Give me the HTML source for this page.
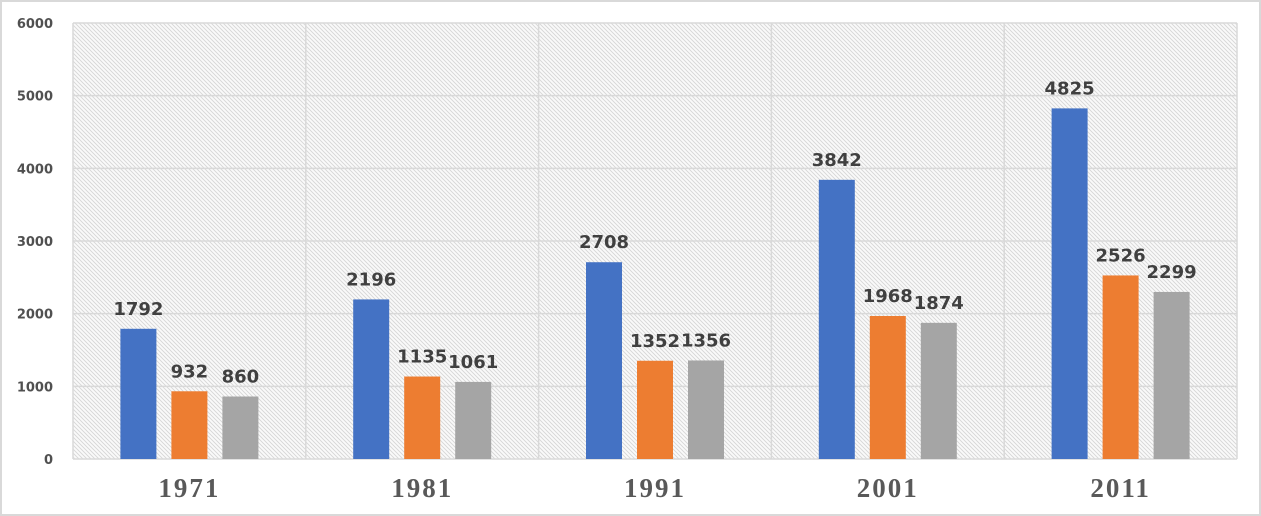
<!DOCTYPE html>
<html><head><meta charset="utf-8"><style>
body{margin:0;background:#fff;}
svg{display:block;}
</style></head><body>
<svg id="chart" width="1261" height="516" xmlns="http://www.w3.org/2000/svg">
<defs>
<pattern id="hatch" width="4" height="4" patternUnits="userSpaceOnUse">
<rect width="4" height="4" fill="#fafafa"/>
<path d="M-1,-1 L5,5 M-1,3 L1,5 M3,-1 L5,1" stroke="#d6d6d6" stroke-width="0.9"/>
</pattern>
</defs>
<rect x="1" y="1" width="1259" height="514" fill="#fff" stroke="#d9d9d9" stroke-width="2"/>
<rect x="73" y="23" width="1164" height="436" fill="url(#hatch)"/>
<g id="grid"></g>
<g id="bars"></g>
<g id="labels"></g>
</svg>
<script>
const categories = ["1971","1981","1991","2001","2011"];
const seriesA = [1792,2196,2708,3842,4825];
const seriesB = [932,1135,1352,1968,2526];
const seriesC = [860,1061,1356,1874,2299];
const yTicks = [0,1000,2000,3000,4000,5000,6000];
const colors = ["#4472c4","#ed7d31","#a5a5a5"];
const NS="http://www.w3.org/2000/svg";
const L=73,R=1237,T=23,B=459,YMAX=6000;
const catW=(R-L)/categories.length;
const y=v=>B-(v/YMAX)*(B-T);
const x=i=>L+i*catW;
function mk(tag,attrs,parent){const e=document.createElementNS(NS,tag);for(const k in attrs)e.setAttribute(k,attrs[k]);parent.appendChild(e);return e;}
const grid=document.getElementById('grid'),bars=document.getElementById('bars'),labels=document.getElementById('labels');
yTicks.forEach(t=>{
  const ln=mk('line',{x1:L,x2:R,y1:y(t),y2:y(t),stroke:'#d9d9d9','stroke-width':1.5},grid);
  
  
  const tx=mk('text',{x:53,y:y(t)+5,'text-anchor':'end','font-family':'"DejaVu Sans",sans-serif','font-weight':'bold','font-size':13,fill:'#505050'},labels);
  tx.textContent=t;
  
  
});
for(let i=0;i<=categories.length;i++){
  const ln=mk('line',{x1:x(i),x2:x(i),y1:T,y2:B,stroke:'#d9d9d9','stroke-width':1.5},grid);
  
  
}
const series=[seriesA,seriesB,seriesC];
const bw=36,gap=15,gw=3*bw+2*gap;
categories.forEach((c,i)=>{
  const x0=x(i)+(catW-gw)/2;
  series.forEach((s,j)=>{
    const bx=x0+j*(bw+gap);
    const r=mk('rect',{x:bx,y:y(s[i]),width:bw,height:B-y(s[i]),fill:colors[j]},bars);
    
    
    const t=mk('text',{x:bx+bw/2,y:y(s[i])-14,'text-anchor':'middle','font-family':'"DejaVu Sans",sans-serif','font-weight':'bold','font-size':18,fill:'#404040'},labels);
    t.textContent=s[i];
    
    
  });
  const t=mk('text',{x:x(i)+catW/2,y:497,'text-anchor':'middle','font-family':'"Liberation Serif",serif','font-weight':'bold','font-size':27,'letter-spacing':2,fill:'#595959'},labels);
  t.textContent=c;
  
  
});
</script>
</body></html>
